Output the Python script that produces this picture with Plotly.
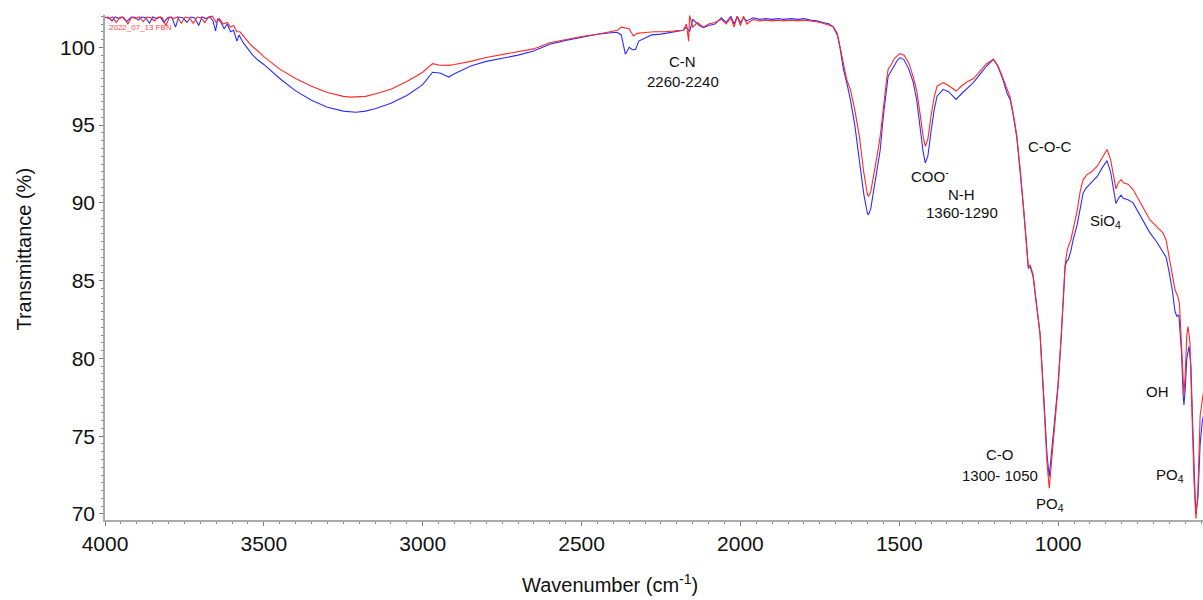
import plotly.graph_objects as go

# ---------------- data ----------------
blue_wn = [4000, 3990, 3978, 3968, 3955, 3945, 3932, 3920, 3908, 3895, 3885, 3872, 3860, 3850, 3838,
           3826, 3815, 3803, 3790, 3778, 3768, 3755, 3742, 3730, 3718, 3705, 3695, 3682, 3670, 3660,
           3652, 3645, 3635, 3625, 3615, 3605, 3595, 3585, 3578, 3565, 3550, 3535, 3520, 3500, 3450,
           3400, 3350, 3300, 3250, 3210, 3180, 3150, 3100, 3050, 3000, 2969, 2945, 2918, 2900, 2870,
           2849, 2800, 2750, 2700, 2651, 2600, 2550, 2500, 2450, 2400, 2387, 2375, 2362, 2350, 2340,
           2330, 2320, 2300, 2280, 2250, 2220, 2200, 2180, 2170, 2160, 2150, 2130, 2116, 2100, 2080,
           2060, 2045, 2030, 2020, 2010, 2000, 1990, 1980, 1960, 1940, 1920, 1900, 1880, 1865, 1840,
           1820, 1800, 1780, 1760, 1740, 1720, 1708, 1695, 1686, 1676, 1665, 1654, 1640, 1625, 1612,
           1600, 1597, 1590, 1580, 1570, 1560, 1550, 1540, 1535, 1525, 1515, 1505, 1497, 1485, 1470,
           1456, 1445, 1435, 1425, 1418, 1410, 1400, 1390, 1381, 1370, 1362, 1345, 1330, 1321, 1305,
           1285, 1267, 1245, 1225, 1204, 1190, 1175, 1160, 1151, 1140, 1130, 1119, 1108, 1100, 1094,
           1088, 1079, 1068, 1057, 1045, 1035, 1028, 1020, 1010, 1000, 990, 978, 972, 968, 960,
           953, 940, 930, 921, 910, 895, 877, 860, 846, 835, 825, 818, 810, 802, 795,
           780, 764, 745, 730, 711, 690, 670, 660, 650, 640, 632, 626, 620, 612, 606,
           604, 600, 595, 588, 582, 576, 570, 567, 560, 553, 547, 543]
blue_t = [101.9, 101.95, 101.7, 101.95, 101.85, 101.95, 101.65, 101.9, 101.95, 101.75, 101.95, 101.9, 101.55, 101.95, 101.85,
          101.95, 101.6, 101.9, 101.95, 101.3, 101.95, 101.9, 101.6, 101.95, 101.9, 101.4, 101.95, 101.85, 101.95, 101.7,
          101.05, 101.85, 101.6, 101.2, 101.5, 101.0, 101.1, 100.4, 100.8, 100.3, 99.9, 99.5, 99.2, 98.9, 98.0,
          97.2, 96.6, 96.15, 95.9, 95.83, 95.9, 96.05, 96.4, 96.9, 97.6, 98.4, 98.35, 98.09, 98.3, 98.6,
          98.8, 99.1, 99.3, 99.5, 99.76, 100.2, 100.45, 100.65, 100.84, 100.95, 100.95, 100.8, 99.55, 100.0, 99.85,
          99.87, 100.4, 100.6, 100.8, 100.85, 100.95, 101.0, 101.1, 101.3, 101.0, 101.8, 101.4, 101.27, 101.4, 101.5,
          101.9, 101.6, 102.0, 101.5, 102.0, 101.6, 101.9, 101.7, 101.9, 101.8, 101.85, 101.8, 101.85, 101.8, 101.85,
          101.8, 101.85, 101.75, 101.7, 101.6, 101.5, 101.3, 100.8, 99.9, 98.6, 97.7, 96.65, 95.0, 92.8, 90.6,
          89.3, 89.25, 89.6, 90.8, 92.0, 93.4, 95.6, 97.5, 98.15, 98.5, 98.9, 99.2, 99.34, 99.2, 98.6,
          97.75, 96.6, 95.0, 93.3, 92.57, 93.0, 94.6, 96.0, 96.86, 97.1, 97.3, 97.15, 96.8, 96.65, 97.0,
          97.4, 97.73, 98.3, 98.8, 99.23, 98.8, 98.0, 97.0, 96.65, 95.5, 94.2, 92.0, 89.5, 87.5, 85.8,
          85.9, 85.3, 83.4, 81.6, 77.5, 73.8, 72.4, 74.0, 76.3, 78.4, 81.5, 85.9, 86.3, 86.35, 86.9,
          87.6, 88.6, 89.8, 90.65, 91.0, 91.3, 91.7, 92.3, 92.72, 92.0, 90.7, 89.96, 90.3, 90.5, 90.3,
          90.2, 90.0, 89.3, 88.7, 88.07, 87.5, 86.78, 86.5, 85.5, 84.3, 83.0, 82.7, 82.8, 80.5, 77.5,
          77.0, 78.0, 80.0, 80.77, 79.5, 75.5, 71.5, 70.0, 71.0, 74.5, 75.8, 76.3]

red_wn = [4000, 3988, 3976, 3965, 3952, 3940, 3928, 3916, 3904, 3892, 3880, 3868, 3856, 3845, 3833,
          3820, 3808, 3797, 3785, 3772, 3760, 3748, 3735, 3722, 3710, 3698, 3686, 3674, 3662, 3650,
          3640, 3628, 3615, 3605, 3595, 3585, 3575, 3560, 3541, 3518, 3500, 3450, 3400, 3350, 3300,
          3250, 3226, 3180, 3150, 3100, 3050, 3000, 2969, 2945, 2918, 2900, 2849, 2800, 2750, 2700,
          2651, 2600, 2550, 2500, 2450, 2400, 2387, 2375, 2365, 2350, 2337, 2325, 2300, 2270, 2240,
          2210, 2180, 2170, 2163, 2160, 2150, 2135, 2116, 2100, 2080, 2060, 2045, 2030, 2020, 2010,
          2000, 1990, 1980, 1960, 1940, 1920, 1900, 1880, 1865, 1840, 1820, 1800, 1780, 1760, 1740,
          1720, 1708, 1695, 1686, 1676, 1665, 1654, 1640, 1625, 1612, 1600, 1597, 1590, 1580, 1570,
          1560, 1550, 1540, 1535, 1525, 1515, 1505, 1498, 1485, 1470, 1456, 1445, 1435, 1425, 1418,
          1410, 1400, 1390, 1381, 1370, 1362, 1345, 1330, 1321, 1305, 1285, 1267, 1245, 1225, 1204,
          1190, 1175, 1160, 1151, 1140, 1130, 1119, 1108, 1100, 1094, 1088, 1079, 1068, 1057, 1045,
          1035, 1028, 1020, 1010, 1000, 990, 978, 972, 968, 960, 953, 940, 930, 921, 910,
          895, 877, 860, 846, 835, 825, 818, 810, 802, 795, 780, 764, 745, 730, 711,
          690, 670, 660, 650, 640, 632, 623, 618, 612, 606, 604, 600, 595, 591, 585,
          578, 572, 566, 560, 553, 547, 543]
red_t = [101.95, 101.85, 101.95, 101.6, 101.95, 101.9, 101.5, 101.95, 101.85, 101.95, 101.65, 101.95, 101.9, 101.7, 101.95,
         101.9, 101.4, 101.95, 101.85, 101.95, 101.55, 101.95, 101.9, 101.55, 101.95, 101.9, 101.6, 101.95, 102.0, 101.6,
         101.85, 101.5, 101.6, 101.3, 101.4, 101.0, 101.0, 100.6, 100.15, 99.75, 99.4, 98.6, 98.0, 97.5, 97.1,
         96.85, 96.8, 96.85, 97.0, 97.3, 97.8, 98.4, 98.95, 98.85, 98.84, 98.9, 99.1, 99.35, 99.55, 99.75,
         99.9, 100.3, 100.5, 100.7, 100.84, 101.05, 101.1, 101.3, 101.25, 101.2, 100.73, 100.9, 100.95, 101.0, 101.0,
         101.05, 101.1, 101.5, 100.4, 102.05, 101.3, 101.6, 101.3, 101.5, 101.6, 101.8, 101.5, 101.9, 101.3, 102.0,
         101.4, 102.0, 101.5, 101.8, 101.7, 101.75, 101.7, 101.75, 101.7, 101.75, 101.7, 101.75, 101.7, 101.65, 101.55,
         101.45, 101.35, 100.9, 100.0, 98.8, 97.9, 97.3, 96.0, 94.2, 92.0, 90.5, 90.43, 90.7, 91.8, 93.0,
         94.3, 96.3, 97.9, 98.6, 98.9, 99.3, 99.5, 99.6, 99.5, 99.0, 98.1, 97.2, 95.8, 94.3, 93.64,
         94.1, 95.6, 96.8, 97.5, 97.65, 97.73, 97.55, 97.3, 97.19, 97.5, 97.8, 97.98, 98.5, 98.95, 99.23,
         98.85, 98.1, 97.2, 96.8, 95.6, 94.3, 92.1, 89.6, 87.6, 85.9, 86.0, 85.4, 83.5, 81.6, 77.2,
         73.3, 71.65, 73.5, 76.0, 78.2, 81.5, 86.0, 86.9, 87.2, 87.6, 88.3, 89.5, 90.8, 91.5, 91.8,
         92.0, 92.36, 93.0, 93.43, 92.8, 91.6, 90.9, 91.3, 91.5, 91.3, 91.2, 90.86, 90.2, 89.6, 88.9,
         88.5, 88.07, 87.6, 86.5, 85.2, 84.4, 83.98, 83.5, 81.0, 78.3, 77.65, 79.0, 81.5, 82.05, 81.0,
         76.0, 72.0, 69.7, 71.5, 76.3, 77.3, 77.8]

x_ticks = [4000, 3500, 3000, 2500, 2000, 1500, 1000]
y_ticks = [70, 75, 80, 85, 90, 95, 100]

# annotation labels: (text, wavenumber, transmittance)
labels = [
    ("C-N", 2181, 99.1),
    ("2260-2240", 2181, 97.81),
    ("COO<sup>-</sup>", 1403, 91.76),
    ("N-H", 1303, 90.53),
    ("1360-1290", 1303, 89.38),
    ("C-O-C", 1026, 93.63),
    ("SiO<sub>4</sub>", 852, 88.8),
    ("OH", 686, 77.85),
    ("PO<sub>4</sub>", 648, 72.44),
    ("C-O", 1183, 73.8),
    ("1300- 1050", 1183, 72.44),
    ("PO<sub>4</sub>", 1026, 70.6),
]

FONT = "Liberation Sans, Arial, sans-serif"

fig = go.Figure()
fig.add_trace(go.Scatter(x=blue_wn, y=blue_t, mode="lines",
                         line=dict(color="rgb(45,45,255)", width=1.1), showlegend=False))
fig.add_trace(go.Scatter(x=red_wn, y=red_t, mode="lines",
                         line=dict(color="rgb(255,40,40)", width=1.1), showlegend=False))

for text, xw, yt in labels:
    fig.add_annotation(x=xw, y=yt, text=text, showarrow=False,
                       font=dict(family=FONT, size=15, color="#111"),
                       xanchor="center", yanchor="middle")

fig.add_annotation(x=3994, y=101.3, text="2022_07_13 FBN", showarrow=False,
                   font=dict(family=FONT, size=8, color="rgb(255,70,70)"),
                   xanchor="left", yanchor="middle")

# axis titles placed as annotations (paper coordinates)
fig.add_annotation(xref="paper", yref="paper", x=0.46, y=-0.125,
                   text="Wavenumber (cm<sup>-1</sup>)", showarrow=False,
                   font=dict(family=FONT, size=20, color="#111"),
                   xanchor="center", yanchor="middle")
fig.add_annotation(xref="paper", yref="paper", x=-0.074, y=0.537,
                   text="Transmittance (%)", showarrow=False, textangle=-90,
                   font=dict(family=FONT, size=20, color="#111"),
                   xanchor="center", yanchor="middle")

fig.update_layout(
    width=1203, height=600,
    margin=dict(l=105, r=0, t=15, b=80),
    paper_bgcolor="white", plot_bgcolor="white",
    font=dict(family=FONT, color="#111"),
    xaxis=dict(
        range=[4000, 544], tickvals=x_ticks, ticks="outside", ticklen=4, tickcolor="#777",
        showline=True, linecolor="#aaa", linewidth=1.5, showgrid=False, zeroline=False,
        tickfont=dict(size=21, family=FONT, color="#111"),
        minor=dict(dtick=50, ticks="outside", ticklen=2, tickcolor="#888"),
    ),
    yaxis=dict(
        range=[69.61, 102.08], tickvals=y_ticks, ticks="outside", ticklen=4, tickcolor="#777",
        showline=True, linecolor="#aaa", linewidth=1.5, showgrid=False, zeroline=False,
        tickfont=dict(size=21, family=FONT, color="#111"),
        minor=dict(dtick=0.5, tick0=70, ticks="outside", ticklen=2, tickcolor="#888"),
    ),
)

fig.write_html("out.html", config={"displayModeBar": False},
               post_script="document.body.style.margin='0';")
